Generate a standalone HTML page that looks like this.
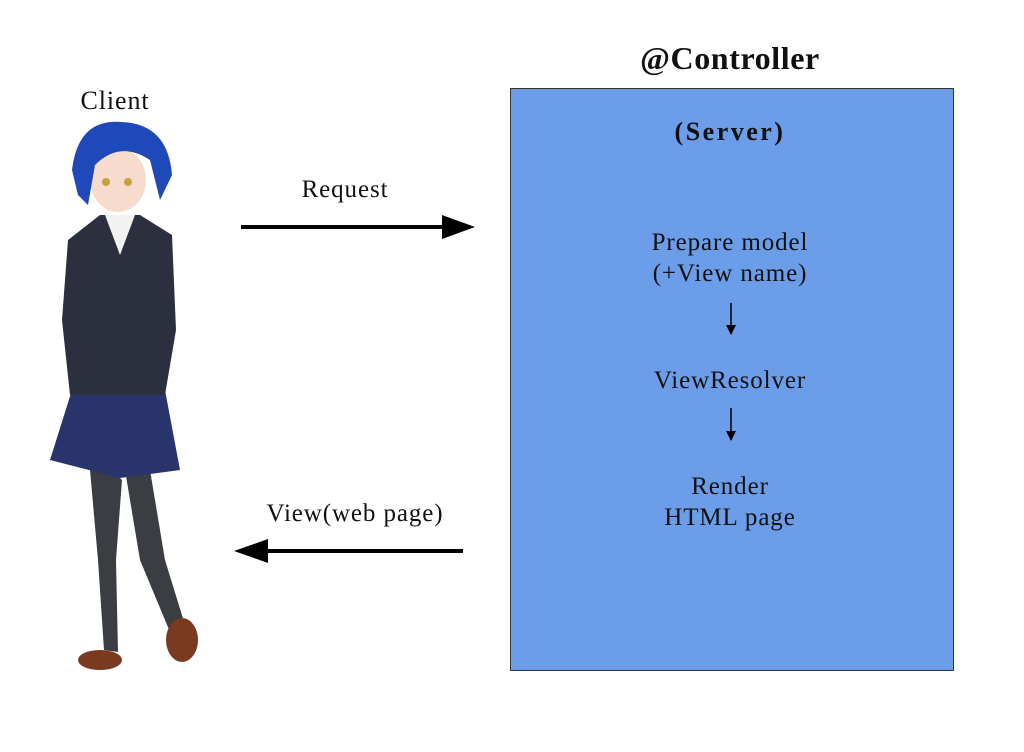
<!DOCTYPE html>
<html><head><meta charset="utf-8"><style>
html,body{margin:0;padding:0;background:#fff}
body{width:1024px;height:752px;position:relative;overflow:hidden;font-family:"Liberation Serif",serif;color:#111}
.t{position:absolute;white-space:nowrap;text-align:center;font-size:25px;line-height:31px;letter-spacing:0.9px}
</style></head><body>
<svg width="1024" height="752" style="position:absolute;left:0;top:0">
<defs><marker id="ah" markerWidth="10" markerHeight="10" refX="9" refY="5" orient="auto" markerUnits="userSpaceOnUse"><path d="M0,0 L10,5 L0,10 z" fill="#000"/></marker></defs>
<rect x="510.5" y="88.5" width="443" height="582" fill="#6b9de8" stroke="#333" stroke-width="1"/>
<line x1="241" y1="227" x2="450" y2="227" stroke="#000" stroke-width="4"/>
<path d="M442,215 L475,227 L442,239 z" fill="#000"/>
<line x1="463" y1="551" x2="262" y2="551" stroke="#000" stroke-width="4"/>
<path d="M268,539 L234,551 L268,563 z" fill="#000"/>
<line x1="731" y1="303" x2="731" y2="334" stroke="#000" stroke-width="1.5" marker-end="url(#ah)"/>
<line x1="731" y1="408" x2="731" y2="440" stroke="#000" stroke-width="1.5" marker-end="url(#ah)"/>
<g>
<path d="M112,470 L90,470 L98,560 L104,650 L118,652 L116,560 L122,480 Z" fill="#3a3d42"/>
<path d="M125,470 L150,470 L165,560 L185,625 L170,632 L140,560 Z" fill="#3a3d42"/>
<ellipse cx="100" cy="660" rx="22" ry="10" fill="#7a3a20"/>
<ellipse cx="182" cy="640" rx="16" ry="22" fill="#7a3a20"/>
<path d="M72,390 L165,390 L180,470 L120,478 L50,460 Z" fill="#28346b"/>
<path d="M68,240 L100,215 L140,215 L172,235 L176,330 L165,395 L70,395 L62,320 Z" fill="#2c2f3d"/>
<path d="M105,215 L135,215 L120,255 Z" fill="#f2f2f2"/>
<ellipse cx="118" cy="180" rx="28" ry="32" fill="#f7dccd"/>
<path d="M72,170 Q78,118 122,122 Q168,124 172,175 L160,200 L150,160 Q120,140 95,165 L88,205 L78,195 Z" fill="#1f48b8"/>
<circle cx="106" cy="182" r="4" fill="#c9a040"/><circle cx="128" cy="182" r="4" fill="#c9a040"/>
</g>
</svg>
<div class="t" style="left:60px;top:85px;width:110px;font-size:26px">Client</div>
<div class="t" style="left:600px;top:40px;width:260px;font-weight:bold;font-size:32px;line-height:36px;letter-spacing:0.6px">@Controller</div>
<div class="t" style="left:610px;top:116px;width:240px;font-weight:bold;font-size:26px;letter-spacing:2.5px">(Server)</div>
<div class="t" style="left:250px;top:174px;width:190px">Request</div>
<div class="t" style="left:600px;top:227px;width:260px">Prepare model<br>(+View name)</div>
<div class="t" style="left:600px;top:365px;width:260px">ViewResolver</div>
<div class="t" style="left:600px;top:471px;width:260px">Render<br>HTML page</div>
<div class="t" style="left:225px;top:498px;width:260px">View(web page)</div>
</body></html>
